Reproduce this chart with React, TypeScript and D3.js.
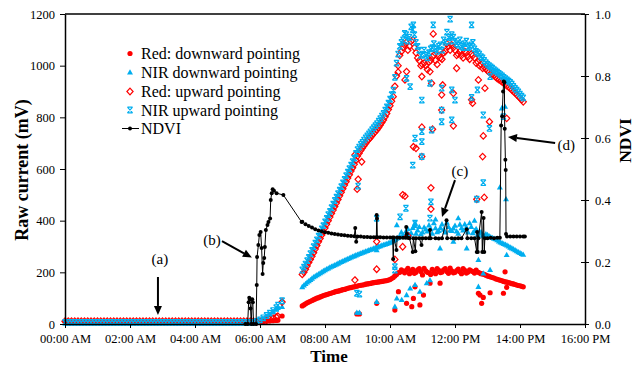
import { useEffect, useRef } from "react";
import * as d3 from "d3";

// hours of day for the flat night-time part (sensor output near zero)
const flatHours = [
  0, 0.1, 0.2, 0.3, 0.4, 0.5, 0.6, 0.7, 0.8, 0.9, 1, 1.1, 1.2, 1.3, 1.4, 1.5, 1.6, 1.7, 1.8, 1.9,
  2, 2.1, 2.2, 2.3, 2.4, 2.5, 2.6, 2.7, 2.8, 2.9, 3, 3.1, 3.2, 3.3, 3.4, 3.5, 3.6, 3.7, 3.8, 3.9,
  4, 4.1, 4.2, 4.3, 4.4, 4.5, 4.6, 4.7, 4.8, 4.9, 5, 5.1, 5.2, 5.3, 5.4, 5.5, 5.6, 5.7, 5.8,
];
const flatRedDown = [
  9, 9, 9, 9, 9, 9, 9, 9, 9, 9, 9, 9, 9, 9, 9, 9, 9, 9, 9, 9,
  9, 9, 9, 9, 9, 9, 9, 9, 9, 9, 9, 9, 9, 9, 9, 9, 9, 9, 9, 9,
  9, 9, 9, 9, 9, 9, 9, 9, 9, 9, 9, 9, 9, 9, 9, 9, 9, 9, 9,
];
const flatNirDown = [
  4, 4, 4, 4, 4, 4, 4, 4, 4, 4, 4, 4, 4, 4, 4, 4, 4, 4, 4, 4,
  4, 4, 4, 4, 4, 4, 4, 4, 4, 4, 4, 4, 4, 4, 4, 4, 4, 4, 4, 4,
  4, 4, 4, 4, 4, 4, 4, 4, 4, 4, 4, 4, 4, 4, 4, 4, 4, 4, 4,
];
const flatRedUp = [
  11, 11, 11, 11, 11, 11, 11, 11, 11, 11, 11, 11, 11, 11, 11, 11, 11, 11, 11, 11,
  11, 11, 11, 11, 11, 11, 11, 11, 11, 11, 11, 11, 11, 11, 11, 11, 11, 11, 11, 11,
  11, 11, 11, 11, 11, 11, 11, 11, 11, 11, 11, 11, 11, 11, 11, 11, 11, 11, 11,
];
const flatNirUp = [
  6, 6, 6, 6, 6, 6, 6, 6, 6, 6, 6, 6, 6, 6, 6, 6, 6, 6, 6, 6,
  6, 6, 6, 6, 6, 6, 6, 6, 6, 6, 6, 6, 6, 6, 6, 6, 6, 6, 6, 6,
  6, 6, 6, 6, 6, 6, 6, 6, 6, 6, 6, 6, 6, 6, 6, 6, 6, 6, 6,
];

// sunrise
const riseHours = [5.9, 6.0, 6.1, 6.2, 6.3, 6.4, 6.5, 6.55, 6.68];
const riseRedDown = [8, 9, 10, 11, 12, 13, 14, 15, 31];
const riseNirDown = [8, 13, 20, 28, 36, 45, 56, 62, 66];
const riseRedUp = [8, 10, 12, 15, 18, 22, 27, 30, 85];
const riseNirUp = [10, 16, 24, 33, 42, 52, 63, 73, 90];

// daytime record, on the tenth of an hour
const denseHours = [
  7.3, 7.4, 7.5, 7.6, 7.7, 7.8, 7.9,
  8.0, 8.1, 8.2, 8.3, 8.4, 8.5, 8.6, 8.7, 8.8, 8.9,
  9.0, 9.1, 9.2, 9.3, 9.4, 9.5, 9.6, 9.7, 9.8, 9.9,
  10.0, 10.1, 10.2, 10.3, 10.4, 10.5, 10.6, 10.7, 10.8, 10.9,
  11.0, 11.1, 11.2, 11.3, 11.4, 11.5, 11.6, 11.7, 11.8, 11.9,
  12.0, 12.1, 12.2, 12.3, 12.4, 12.5, 12.6, 12.7, 12.8, 12.9,
  13.0, 13.1, 13.2, 13.3, 13.4, 13.5, 13.6, 13.7, 13.8, 13.9,
  14.0, 14.1,
];
const redDownDense = [
  70, 78, 85, 91, 97, 102, 107,
  112, 116, 120, 124, 127, 131, 134, 138, 141, 144,
  147, 150, 152, 155, 157, 160, 162, 164, 166, 168,
  172, 180, 192, 200, 205, 208, 195, 212, 200, 214,
  190, 206, 198, 212, 195, 208, 201, 214, 196, 206,
  200, 213, 195, 208, 201, 206, 197, 201, 195, 192,
  186, 182, 178, 173, 169, 165, 162, 158, 155, 151,
  148, 144,
];
const nirDownDense = [
  143, 155, 166, 176, 185, 193, 201,
  208, 215, 222, 228, 234, 240, 246, 252, 258, 263,
  268, 273, 278, 283, 288, 292, 297, 301, 306, 310,
  315, 322, 330, 338, 345, 360, 345, 372, 350, 376,
  355, 366, 382, 350, 371, 360, 386, 355, 376, 360,
  381, 350, 371, 386, 355, 376, 360, 345, 356, 340,
  345, 336, 330, 325, 316, 310, 304, 296, 290, 282,
  275, 268,
];
const redUpDense = [
  192, 212, 238, 262, 290, 318, 345,
  372, 400, 428, 455, 482, 510, 538, 565, 592, 618,
  650, 672, 690, 708, 722, 738, 752, 770, 790, 815,
  845, 880, 960, 1040, 1070, 1090, 1075, 1100, 1050, 1020,
  1005, 1000, 1015, 1035, 1020, 1040, 1025, 1055, 1075, 1080,
  1060, 1045, 1040, 1055, 1035, 1045, 1030, 1015, 1005, 995,
  980, 970, 962, 950, 942, 932, 922, 912, 900, 888,
  875, 860,
];
const nirUpDense = [
  209, 232, 258, 285, 313, 340, 368,
  395, 423, 450, 478, 505, 532, 560, 588, 615, 642,
  675, 695, 712, 728, 744, 760, 776, 795, 815, 840,
  870, 905, 1010, 1075, 1100, 1120, 1110, 1140, 1090, 1060,
  1045, 1040, 1050, 1070, 1065, 1075, 1060, 1090, 1110, 1120,
  1095, 1080, 1075, 1085, 1070, 1080, 1065, 1050, 1035, 1020,
  1005, 995, 985, 975, 965, 955, 945, 935, 920, 905,
  890, 875,
];

// daytime record, readings in between (x.x5 h)
const midHours = [
  7.35, 7.45, 7.55, 7.65, 7.75, 7.85, 7.95,
  8.05, 8.15, 8.25, 8.35, 8.45, 8.55, 8.65, 8.75, 8.85, 8.95,
  9.05, 9.15, 9.25, 9.35, 9.45, 9.55, 9.65, 9.75, 9.85, 9.95,
  10.05, 10.15, 10.25, 10.35, 10.45, 10.55, 10.65, 10.75, 10.85, 10.95,
  11.05, 11.15, 11.25, 11.35, 11.45, 11.55, 11.65, 11.75, 11.85, 11.95,
  12.05, 12.15, 12.25, 12.35, 12.45, 12.55, 12.65, 12.75, 12.85, 12.95,
  13.05, 13.15, 13.25, 13.35, 13.45, 13.55, 13.65, 13.75, 13.85, 13.95,
  14.05,
];
const redDownMid = [
  74, 82, 88, 94, 100, 105, 110,
  114, 118, 122, 126, 129, 133, 136, 140, 143, 146,
  149, 151, 154, 156, 159, 161, 163, 165, 167, 170,
  176, 186, 198, 210, 198, 215, 205, 196, 210, 203,
  215, 200, 192, 205, 214, 199, 210, 203, 216, 198,
  207, 202, 214, 197, 210, 203, 209, 198, 194, 189,
  184, 180, 175, 171, 167, 163, 160, 156, 153, 149,
  146,
];
const nirDownMid = [
  149, 161, 171, 181, 189, 197, 205,
  212, 219, 225, 231, 237, 243, 249, 255, 261, 266,
  271, 276, 281, 286, 290, 295, 299, 304, 308, 313,
  318, 326, 334, 355, 340, 368, 352, 380, 362, 348,
  374, 358, 368, 390, 356, 372, 365, 392, 362, 370,
  358, 385, 362, 374, 390, 352, 368, 350, 342, 348,
  340, 333, 328, 320, 313, 307, 300, 293, 286, 278,
  271,
];
const redUpMid = [
  200, 225, 250, 276, 304, 331, 358,
  386, 414, 441, 468, 496, 524, 551, 578, 605, 634,
  661, 681, 699, 715, 730, 745, 761, 780, 802, 830,
  862, 920, 1000, 1055, 1080, 1060, 1095, 1070, 1030, 1000,
  1010, 985, 1020, 1040, 1005, 1030, 1050, 1085, 1060, 1070,
  1040, 1055, 1030, 1050, 1025, 1040, 1010, 1000, 990, 988,
  975, 966, 956, 946, 937, 927, 917, 906, 894, 881,
  868,
];
const nirUpMid = [
  220, 245, 272, 299, 326, 354, 381,
  409, 436, 464, 491, 518, 546, 574, 601, 628, 660,
  685, 703, 720, 736, 752, 768, 785, 805, 828, 855,
  888, 955, 1045, 1090, 1125, 1095, 1150, 1120, 1075, 1040,
  1060, 1030, 1065, 1085, 1055, 1080, 1100, 1130, 1095, 1110,
  1085, 1100, 1070, 1095, 1075, 1090, 1055, 1045, 1030, 1012,
  1000, 990, 980, 970, 960, 950, 940, 928, 912, 898,
  882,
];

// scattered readings [hour, mV]
const redDownOutliers = [
  [8.98, 39], [9.06, 39], [9.59, 80], [10.26, 125], [10.15, 54], [10.51, 80], [10.67, 67],
  [10.77, 144], [10.72, 99], [10.92, 74], [11.03, 112], [11.23, 158], [11.54, 158],
  [12.72, 119], [12.77, 112], [12.87, 103], [13.08, 121], [12.82, 80], [13.49, 119],
  [13.54, 202], [13.59, 142],
];
const nirDownOutliers = [
  [8.98, 44], [9.06, 44], [9.59, 86], [10.21, 99], [10.15, 67], [10.36, 93], [10.51, 112],
  [10.62, 138], [10.92, 125], [11.13, 158], [11.23, 170], [10.21, 383], [10.77, 390],
  [9.59, 286], [11.54, 293], [11.95, 319], [12.36, 293], [12.72, 248], [13.08, 209],
  [13.59, 267], [12.87, 196], [12.72, 144], [13.44, 835], [13.54, 841], [13.38, 529],
  [13.57, 483], [10.77, 151], [11.4, 405], [12.1, 410], [12.6, 400],
];
const redUpOutliers = [
  [8.92, 170], [8.99, 522], [9.02, 560], [9.59, 319], [9.59, 212], [10.15, 250], [10.39, 299],
  [10.39, 500], [10.46, 495], [10.55, 342], [11.26, 527], [11.26, 445], [12.67, 483],
  [12.9, 490], [10.51, 977], [10.46, 945], [11.23, 977], [11.28, 932], [10.98, 958],
  [11.62, 925], [11.59, 887], [11.95, 893], [12.05, 990], [12.51, 868], [12.54, 855],
  [12.72, 945], [12.92, 913], [11.59, 828], [11.95, 767], [10.98, 762], [11.31, 754],
  [10.72, 686], [10.8, 680], [10.98, 648], [12.87, 728], [12.85, 648], [13.06, 783],
  [13.59, 796], [11.33, 1123], [9.13, 628], [8.92, 654], [10.25, 975],
];
const nirUpOutliers = [
  [8.98, 119], [9.06, 116], [9.02, 534], [9.59, 409], [10.15, 222], [10.15, 209], [10.31, 415],
  [10.49, 448], [11.26, 473], [10.77, 390], [11.23, 410], [12.87, 547], [12.67, 483],
  [11.33, 1158], [11.85, 1180], [12.51, 1158], [10.72, 1158], [10.51, 951], [10.62, 919],
  [10.98, 867], [11.23, 932], [11.59, 913], [11.9, 906], [12.0, 867], [11.59, 828],
  [11.59, 783], [10.98, 745], [11.28, 751], [11.9, 790], [12.51, 877], [12.69, 906],
  [12.87, 809], [13.06, 757], [13.08, 958], [10.77, 719], [10.98, 706], [10.7, 615],
  [10.98, 648], [13.49, 803],
];

// NDVI [hour, index]
const ndviPoints = [
  [5.55, 0], [5.62, 0], [5.65, 0.07], [5.67, 0.085], [5.69, 0.08], [5.71, 0.05], [5.73, 0],
  [5.76, 0.08], [5.78, 0.07], [5.8, 0], [5.88, 0], [5.9, 0.126], [5.91, 0.216], [5.95, 0.255],
  [5.98, 0.287], [6.02, 0.297], [6.05, 0.245], [6.08, 0.161], [6.1, 0.197], [6.13, 0.213],
  [6.15, 0.248], [6.18, 0.303], [6.23, 0.319], [6.26, 0.329], [6.31, 0.34], [6.33, 0.4],
  [6.36, 0.422], [6.39, 0.435], [6.43, 0.43], [6.51, 0.422], [6.72, 0.416], [7.28, 0.329],
  [7.3, 0.33], [7.4, 0.322], [7.5, 0.316], [7.6, 0.311], [7.7, 0.306], [7.8, 0.302],
  [7.9, 0.299], [8.0, 0.296], [8.1, 0.294], [8.2, 0.292], [8.3, 0.29], [8.4, 0.289],
  [8.5, 0.287], [8.6, 0.286], [8.7, 0.285], [8.8, 0.284], [8.9, 0.283], [8.93, 0.31],
  [8.96, 0.265], [9.0, 0.282], [9.1, 0.282], [9.2, 0.281], [9.3, 0.281], [9.4, 0.28],
  [9.5, 0.28], [9.58, 0.28], [9.59, 0.352], [9.6, 0.34], [9.61, 0.28], [9.7, 0.28],
  [9.8, 0.279], [9.9, 0.279], [10.0, 0.279], [10.08, 0.279], [10.1, 0.21], [10.12, 0.279],
  [10.2, 0.239], [10.22, 0.279], [10.3, 0.278], [10.4, 0.278], [10.48, 0.278], [10.5, 0.313],
  [10.52, 0.29], [10.55, 0.278], [10.6, 0.277], [10.7, 0.232], [10.72, 0.277], [10.78, 0.235],
  [10.8, 0.277], [10.9, 0.277], [10.97, 0.255], [11.0, 0.277], [11.1, 0.277], [11.2, 0.277],
  [11.23, 0.303], [11.25, 0.277], [11.4, 0.277], [11.5, 0.276], [11.6, 0.277], [11.74, 0.335],
  [11.76, 0.277], [11.9, 0.277], [12.0, 0.276], [12.1, 0.277], [12.2, 0.277], [12.36, 0.306],
  [12.38, 0.277], [12.5, 0.277], [12.6, 0.277], [12.67, 0.232], [12.68, 0.297], [12.7, 0.232],
  [12.72, 0.277], [12.82, 0.361], [12.84, 0.232], [12.88, 0.342], [12.9, 0.232], [12.92, 0.277],
  [13.0, 0.277], [13.1, 0.278], [13.2, 0.277], [13.3, 0.278], [13.38, 0.278], [13.42, 0.64],
  [13.45, 0.67], [13.48, 0.75], [13.5, 0.782], [13.52, 0.78], [13.53, 0.63], [13.55, 0.53],
  [13.56, 0.497], [13.57, 0.29], [13.6, 0.282], [13.7, 0.282], [13.8, 0.282], [13.9, 0.282],
  [14.0, 0.282], [14.1, 0.282], [14.15, 0.282],
];

const xTicks = [0, 2, 4, 6, 8, 10, 12, 14, 16];
const xTickLabels = ["00:00 AM", "02:00 AM", "04:00 AM", "06:00 AM", "08:00 AM", "10:00 AM", "12:00 PM", "14:00 PM", "16:00 PM"];
const leftTicks = [0, 200, 400, 600, 800, 1000, 1200];
const rightTicks = [0, 0.2, 0.4, 0.6, 0.8, 1.0];
const seriesNames = ["Red: downward pointing", "NIR downward pointing", "Red: upward pointing", "NIR upward pointing", "NDVI"];

// labels (a)-(d): text position and arrow from/to, in [hour, mV]
const annotations = [
  { label: "(a)", text: [2.92, 232], from: [2.86, 182], to: [2.86, 35] },
  { label: "(b)", text: [4.52, 306], from: [4.83, 321], to: [5.75, 257] },
  { label: "(c)", text: [12.15, 573], from: [12.0, 557], to: [11.6, 414] },
  { label: "(d)", text: [15.42, 674], from: [15.08, 701], to: [13.63, 724] },
];

const RED = "#FF0000";
const BLUE = "#00AEEF";
const FONT = "'Liberation Serif', 'Times New Roman', serif";

const zip = (hs: number[], vs: number[]) => hs.map((h, i) => [h, vs[i]]);

const triPath = "M0,-3.2L3,2.1L-3,2.1Z";
const diaPath = "M0,-3.3L3.1,0L0,3.3L-3.1,0Z";
const starPath = "M-2.6,-2.8L2.6,2.8M-2.6,2.8L2.6,-2.8M-2.6,-2.8L2.6,-2.8M-2.6,2.8L2.6,2.8";

export default function App() {
  const svgRef = useRef<SVGSVGElement>(null);

  useEffect(() => {
    const svg = d3.select(svgRef.current);
    svg.selectAll("*").remove();

    const x = d3.scaleLinear().domain([0, 16]).range([65, 585]);
    const y = d3.scaleLinear().domain([0, 1200]).range([324, 14]);
    const y2 = d3.scaleLinear().domain([0, 1]).range([324, 14]);

    const redDown = [...zip(flatHours, flatRedDown), ...zip(riseHours, riseRedDown), ...zip(denseHours, redDownDense), ...zip(midHours, redDownMid), ...redDownOutliers];
    const nirDown = [...zip(flatHours, flatNirDown), ...zip(riseHours, riseNirDown), ...zip(denseHours, nirDownDense), ...zip(midHours, nirDownMid), ...nirDownOutliers];
    const redUp = [...zip(flatHours, flatRedUp), ...zip(riseHours, riseRedUp), ...zip(denseHours, redUpDense), ...zip(midHours, redUpMid), ...redUpOutliers];
    const nirUp = [...zip(flatHours, flatNirUp), ...zip(riseHours, riseNirUp), ...zip(denseHours, nirUpDense), ...zip(midHours, nirUpMid), ...nirUpOutliers];

    // markers
    svg.append("g").selectAll("circle").data(redDown).join("circle")
      .attr("cx", (d) => x(d[0])).attr("cy", (d) => y(d[1])).attr("r", 2.6).attr("fill", RED);

    svg.append("g").selectAll("path").data(nirDown).join("path")
      .attr("transform", (d) => `translate(${x(d[0])},${y(d[1])})`)
      .attr("d", triPath).attr("fill", BLUE);

    svg.append("g").selectAll("path").data(redUp).join("path")
      .attr("transform", (d) => `translate(${x(d[0])},${y(d[1])})`)
      .attr("d", diaPath).attr("fill", "none").attr("stroke", RED).attr("stroke-width", 1.2);

    svg.append("g").selectAll("path").data(nirUp).join("path")
      .attr("transform", (d) => `translate(${x(d[0])},${y(d[1])})`)
      .attr("d", starPath).attr("fill", "none").attr("stroke", BLUE).attr("stroke-width", 1.2);

    // NDVI line
    const line = d3.line<number[]>().x((d) => x(d[0])).y((d) => y2(d[1]));
    svg.append("path").datum(ndviPoints).attr("d", line)
      .attr("fill", "none").attr("stroke", "#000").attr("stroke-width", 1);
    svg.append("g").selectAll("circle").data(ndviPoints).join("circle")
      .attr("cx", (d) => x(d[0])).attr("cy", (d) => y2(d[1])).attr("r", 2).attr("fill", "#000");

    // axes
    const styleAxis = (g: any) => {
      g.attr("font-family", FONT).attr("font-size", 12.5);
      g.select(".domain").attr("stroke", "#000").attr("stroke-width", 1.5);
      g.selectAll(".tick line").attr("stroke", "#000").attr("stroke-width", 1);
      g.selectAll(".tick text").attr("fill", "#000");
    };

    svg.append("g").attr("transform", "translate(65,0)")
      .call(d3.axisLeft(y).tickValues(leftTicks).tickFormat(d3.format("d")).tickSizeInner(5).tickSizeOuter(0).tickPadding(5))
      .call(styleAxis);

    svg.append("g").attr("transform", "translate(0,324)")
      .call(d3.axisBottom(x).tickValues(xTicks).tickFormat((d, i) => xTickLabels[i]).tickSizeInner(4).tickSizeOuter(0).tickPadding(6))
      .call(styleAxis);

    const right = svg.append("g").attr("transform", "translate(585,0)")
      .call(d3.axisRight(y2).tickValues(rightTicks).tickFormat(d3.format(".1f")).tickSizeInner(4).tickSizeOuter(0).tickPadding(6))
      .call(styleAxis);
    right.selectAll(".tick line").attr("x1", -4);

    svg.append("line").attr("x1", 65).attr("x2", 585).attr("y1", 14).attr("y2", 14)
      .attr("stroke", "#000").attr("stroke-width", 1.5);

    // axis titles
    svg.append("text").attr("transform", "translate(22,170) rotate(-90)")
      .attr("text-anchor", "middle").attr("dy", "0.35em")
      .attr("font-family", FONT).attr("font-size", 18).attr("font-weight", "bold")
      .text("Raw current (mV)");
    svg.append("text").attr("x", 329).attr("y", 362)
      .attr("text-anchor", "middle")
      .attr("font-family", FONT).attr("font-size", 17).attr("font-weight", "bold")
      .text("Time");
    svg.append("text").attr("transform", "translate(625,140.5) rotate(-90)")
      .attr("text-anchor", "middle").attr("dy", "0.35em")
      .attr("font-family", FONT).attr("font-size", 17.5).attr("font-weight", "bold")
      .text("NDVI");

    // annotations
    annotations.forEach((a) => {
      svg.append("text").attr("x", x(a.text[0])).attr("y", y(a.text[1]))
        .attr("text-anchor", "middle").attr("font-family", FONT).attr("font-size", 15)
        .text(a.label);
      const x1 = x(a.from[0]), y1 = y(a.from[1]), x2 = x(a.to[0]), y2p = y(a.to[1]);
      const ang = Math.atan2(y2p - y1, x2 - x1);
      const len = 9, hw = 4;
      const bx = x2 - len * Math.cos(ang), by = y2p - len * Math.sin(ang);
      svg.append("line").attr("x1", x1).attr("y1", y1).attr("x2", bx).attr("y2", by)
        .attr("stroke", "#000").attr("stroke-width", 2);
      svg.append("path")
        .attr("d", `M${x2},${y2p}L${bx - hw * Math.sin(ang)},${by + hw * Math.cos(ang)}L${bx + hw * Math.sin(ang)},${by - hw * Math.cos(ang)}Z`)
        .attr("fill", "#000");
    });

    // legend
    const legend = svg.append("g").attr("font-family", FONT).attr("font-size", 16);
    const rowY = [53.5, 72.5, 91.5, 110, 128.5];
    seriesNames.forEach((name, i) => {
      const gy = rowY[i];
      const g = legend.append("g").attr("transform", `translate(130,${gy})`);
      if (i === 0) g.append("circle").attr("r", 2.6).attr("fill", RED);
      if (i === 1) g.append("path").attr("d", triPath).attr("fill", BLUE);
      if (i === 2) g.append("path").attr("d", diaPath).attr("fill", "none").attr("stroke", RED).attr("stroke-width", 1.2);
      if (i === 3) g.append("path").attr("d", starPath).attr("fill", "none").attr("stroke", BLUE).attr("stroke-width", 1.2);
      if (i === 4) {
        g.append("line").attr("x1", -8).attr("x2", 9).attr("stroke", "#000").attr("stroke-width", 1);
        g.append("circle").attr("r", 2).attr("fill", "#000");
      }
      legend.append("text").attr("x", 141).attr("y", gy).attr("dy", "0.35em").text(name);
    });
  }, []);

  return (
    <svg
      ref={svgRef}
      width={641}
      height={366}
      style={{ position: "absolute", left: 0, top: 0, background: "#fff" }}
    ></svg>
  );
}
